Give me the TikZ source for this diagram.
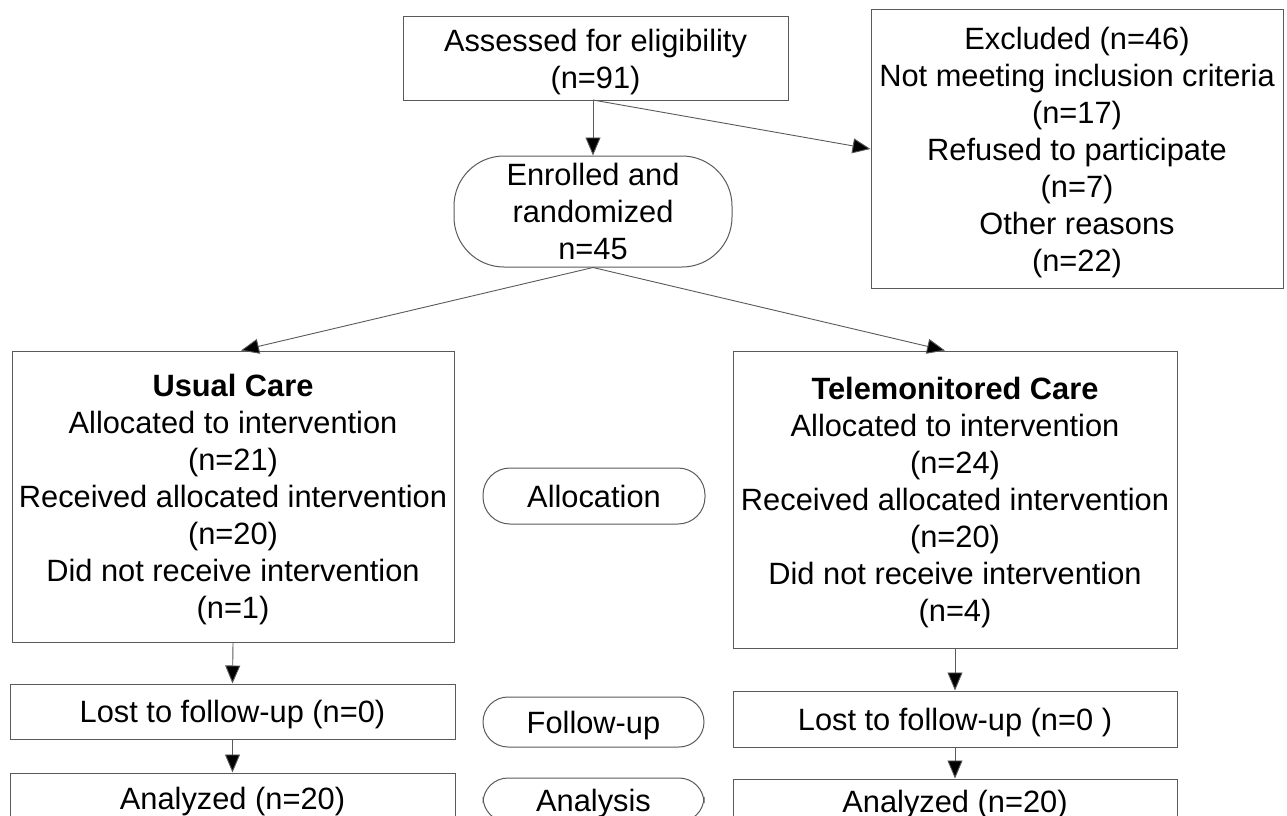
\documentclass[tikz,border=0pt]{standalone}
\usepackage{fontspec}
\setmainfont{Liberation Sans}
\usetikzlibrary{arrows.meta}
\definecolor{edgegray}{HTML}{5A5A5A}
\tikzset{
  box/.style={draw=edgegray, line width=1pt, fill=white, inner sep=0pt, align=center,
    text depth=0pt, font=\fontsize{30.8}{37}\selectfont},
  pill/.style={box, rounded corners=25pt},
  conn/.style={draw=edgegray, line width=0.9pt, -{Triangle[length=18pt,width=15pt,fill=black]}},
}
\begin{document}
\begin{tikzpicture}[x=1pt,y=-1pt]
\clip (0,0) rectangle (1287,816);
\fill[white] (0,0) rectangle (1287,816);

\node[box, minimum width=385pt, minimum height=83pt] (assess) at (595.5,58.5)
  {Assessed for eligibility\\(n=91)};
\node[box, rounded corners=50pt, minimum width=278pt, minimum height=111pt] (enrol) at (593,211.5)
  {Enrolled and\\randomized\\n=45};
\node[box, minimum width=412pt, minimum height=278pt] (excl) at (1077,149)
  {Excluded (n=46)\\Not meeting inclusion criteria\\(n=17)\\Refused to participate\\(n=7)\\Other reasons\\(n=22)};
\node[box, minimum width=442pt, minimum height=291pt] (usual) at (233,496.5)
  {\textbf{Usual Care}\\Allocated to intervention\\(n=21)\\Received allocated intervention\\(n=20)\\Did not receive intervention\\(n=1)};
\node[box, minimum width=444pt, minimum height=297pt] (tele) at (955,499.5)
  {\textbf{Telemonitored Care}\\Allocated to intervention\\(n=24)\\Received allocated intervention\\(n=20)\\Did not receive intervention\\(n=4)};
\node[pill, rounded corners=27pt, minimum width=222pt, minimum height=56pt] (alloc) at (594,496) {Allocation};
\node[box, minimum width=445pt, minimum height=55pt] (lost1) at (232.5,711.5) {Lost to follow-up (n=0)};
\node[pill, minimum width=221pt, minimum height=50pt] (follow) at (593.5,722) {Follow-up};
\node[box, minimum width=444pt, minimum height=56pt] (lost2) at (955,719) {Lost to follow-up (n=0 )};
\node[box, minimum width=445pt, minimum height=50pt] (anal1) at (232.5,798) {Analyzed (n=20)};
\node[pill, minimum width=221pt, minimum height=44pt] (analysis) at (593.5,800) {Analysis};
\node[box, minimum width=444pt, minimum height=44pt] (anal2) at (955,801) {Analyzed (n=20)};

\coordinate (asb) at (593,100);
\draw[conn] (asb) -- (enrol.north);
\draw[conn] (asb) -- (excl.west);
\draw[conn] (enrol.south) -- ([xshift=8pt]usual.north);
\draw[conn] (enrol.south) -- ([xshift=-10pt]tele.north);
\draw[conn] (usual.south) -- (lost1.north);
\draw[conn] (lost1.south) -- (anal1.north);
\draw[conn] (tele.south) -- (lost2.north);
\draw[conn] (lost2.south) -- (anal2.north);
\end{tikzpicture}
\end{document}
